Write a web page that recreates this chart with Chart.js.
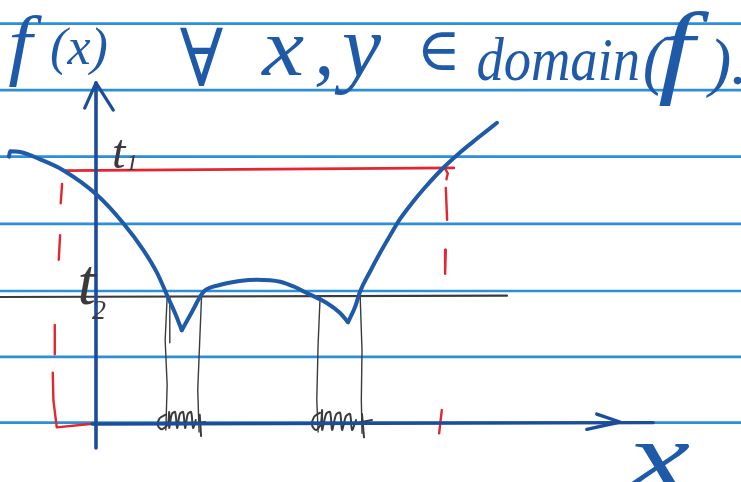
<!DOCTYPE html>
<html>
<head>
<meta charset="utf-8">
<script src="https://cdn.jsdelivr.net/npm/chart.js@4/dist/chart.umd.min.js"></script>
<style>
  html, body { margin: 0; padding: 0; background: #ffffff; overflow: hidden; }
  canvas { display: block; }
</style>
</head>
<body>
<canvas id="sketch" width="741" height="482"></canvas>
<script>
// Units: one unit = one ruled-line spacing; origin at the axes crossing.

// Ruled paper lines (y levels)
const ruledLevels = [0.02, 1.01, 2.0, 3.01, 4.02, 5.02, 6.02];

// f(x): three pieces joined at the two cusps
const curveLeft = [
  [-1.31, 4.02], [-1.29, 4.10], [-1.14, 4.09], [-0.84, 3.98], [-0.50, 3.82],
  [0.02, 3.44], [0.41, 3.02], [0.71, 2.62], [0.92, 2.27], [1.08, 1.91],
  [1.20, 1.64], [1.29, 1.41]
];
const curveMiddle = [
  [1.29, 1.41], [1.44, 1.68], [1.61, 1.98], [1.86, 2.09], [2.16, 2.15],
  [2.42, 2.17], [2.77, 2.14], [2.99, 2.06], [3.17, 1.97], [3.47, 1.82],
  [3.67, 1.67], [3.79, 1.53]
];
const curveRight = [
  [3.79, 1.53], [3.90, 1.77], [3.97, 1.99], [4.12, 2.29], [4.27, 2.57],
  [4.42, 2.83], [4.57, 3.08], [4.75, 3.32], [4.95, 3.56], [5.22, 3.85],
  [5.47, 4.08], [5.74, 4.30], [6.03, 4.53]
];

// Level t1 (red) and its dashed drop lines
const levelT1 = [[-0.50, 3.81], [5.38, 3.85]];
const t1Hook = [[5.25, 3.84], [5.29, 3.77], [5.27, 3.68]];
const t1DropLeft = [
  [[-0.51, 3.61], [-0.53, 3.32]],
  [[-0.54, 2.84], [-0.56, 2.47]],
  [[-0.62, 1.49], [-0.62, 1.05]],
  [[-0.65, 0.77], [-0.64, 0.35], [-0.59, -0.05], [-0.09, 0.0]]
];
const t1DropRight = [
  [[5.26, 3.55], [5.28, 3.07]],
  [[5.26, 2.62], [5.25, 2.26]],
  [[5.20, 0.21], [5.16, -0.14]]
];

// Level t2 (grey) and its drop lines
const levelT2 = [[-1.45, 1.91], [6.18, 1.93]];
const t2Drops = [
  [[1.07, 1.91], [1.04, 1.26], [1.07, 0.59], [1.05, -0.09]],
  [[1.11, 1.91], [1.11, 1.22]],
  [[1.59, 1.98], [1.56, 1.26], [1.53, 0.51], [1.55, -0.12]],
  [[3.37, 1.91], [3.34, 1.20], [3.32, 0.36], [3.34, -0.12]],
  [[3.97, 2.00], [4.00, 1.11], [3.99, 0.36], [4.00, -0.14]]
];

// Hatched intervals on the x axis
const scribbles = [
  [[1.05, 0.14], [0.96, 0.09], [0.93, -0.02], [0.99, -0.08], [1.08, 0.0], [1.10, 0.18],
   [1.10, -0.06], [1.14, 0.15], [1.19, 0.18], [1.22, -0.06], [1.26, 0.15], [1.31, 0.18],
   [1.34, -0.06], [1.38, 0.15], [1.43, 0.18], [1.46, -0.06], [1.50, 0.06]],
  [[1.46, 0.0], [1.64, 0.03]],
  [[1.56, 0.14], [1.58, -0.18]],
  [[3.37, 0.17], [3.28, 0.11], [3.25, -0.02], [3.31, -0.09], [3.38, 0.0], [3.40, 0.21],
   [3.40, -0.09], [3.46, 0.15], [3.52, 0.18], [3.55, -0.09], [3.61, 0.14], [3.67, 0.17],
   [3.70, -0.09], [3.76, 0.12], [3.82, 0.15], [3.85, -0.09], [3.91, 0.06]],
  [[3.85, 0.0], [4.15, 0.06]],
  [[4.00, 0.15], [4.03, -0.20]]
];

// Axes with arrow heads
const yAxisLine = [[0, -0.36], [0, 5.13]];
const yAxisArrow = [[-0.17, 4.75], [0, 5.13], [0.26, 4.72]];
const xAxisLine = [[-0.06, 0], [8.38, 0.02]];
const xAxisArrow = [[7.53, 0.15], [7.88, 0.03], [7.38, -0.08]];

// Text
const headingTokens = ['f', '(x)', '\u2200', 'x', ',', 'y', '\u2208', 'domain', '(', 'f', ').'];
const levelLabels = ['t', '1', 't', '2'];
const axisLabel = 'x';

const INK = '#1f5aa8';
const AXIS = '#1b4d9b';
const RULE = '#2e8fd6';
const RED = '#e3262f';
const GREY = '#3b3b3b';
const HAND = '"Liberation Serif", "DejaVu Serif", serif';

const toPts = arr => arr.map(([x, y]) => ({ x, y }));
const datasets = [];
function addLine(points, color, width, order, smooth = 'none') {
  datasets.push({
    data: toPts(points), showLine: true, borderColor: color, borderWidth: width,
    pointRadius: 0, order, borderCapStyle: 'round', borderJoinStyle: 'round', fill: false,
    tension: smooth === 'none' ? 0 : 0.3,
    cubicInterpolationMode: smooth === 'monotone' ? 'monotone' : 'default'
  });
}

const X_MIN = -96 / 66.5, X_MAX = 645 / 66.5, Y_MIN = -58 / 66.5, Y_MAX = 424 / 66.5;

ruledLevels.forEach(y => addLine([[X_MIN, y], [X_MAX, y]], RULE, 2.6, 9));
addLine(levelT2, GREY, 2.2, 6);
t2Drops.forEach(d => addLine(d, GREY, 1.4, 6));
scribbles.forEach(s => addLine(s, GREY, 2.0, 6, 'bezier'));
addLine(levelT1, RED, 2.8, 5);
addLine(t1Hook, RED, 2.4, 5);
t1DropLeft.forEach(d => addLine(d, RED, 2.4, 5));
t1DropRight.forEach(d => addLine(d, RED, 2.4, 5));
addLine(xAxisLine, AXIS, 3.4, 3);
addLine(xAxisArrow, AXIS, 3.4, 3);
addLine(yAxisLine, AXIS, 3.6, 3);
addLine(yAxisArrow, AXIS, 3.2, 3);
[curveLeft, curveMiddle, curveRight].forEach(c => addLine(c, INK, 4, 1, 'monotone'));

// Placement of handwritten text (data units, font size, horizontal stretch, colour)
const textLayout = [
  { t: headingTokens[0], x: -1.32, y: 5.32, size: 78, sx: 1.1, color: INK },
  { t: headingTokens[1], x: -0.69, y: 5.41, size: 52, sx: 1.0, color: INK },
  { t: headingTokens[2], x: 1.26, y: 5.08, size: 80, sx: 0.9, color: INK, upright: true },
  { t: headingTokens[3], x: 2.50, y: 5.25, size: 82, sx: 1.15, color: INK },
  { t: headingTokens[4], x: 3.28, y: 5.25, size: 82, sx: 1.0, color: INK },
  { t: headingTokens[5], x: 3.70, y: 5.23, size: 88, sx: 1.0, color: INK },
  { t: headingTokens[6], x: 4.82, y: 5.32, size: 60, sx: 1.0, color: INK, upright: true },
  { t: headingTokens[7], x: 5.72, y: 5.17, size: 62, sx: 0.88, color: INK },
  { t: headingTokens[8], x: 8.22, y: 5.14, size: 66, sx: 1.0, color: INK },
  { t: headingTokens[9], x: 8.45, y: 5.11, size: 104, sx: 1.25, color: INK },
  { t: headingTokens[10], x: 9.22, y: 5.11, size: 66, sx: 1.0, color: INK },
  { t: levelLabels[0], x: 0.24, y: 3.85, size: 48, sx: 1.0, color: GREY },
  { t: levelLabels[1], x: 0.45, y: 3.82, size: 24, sx: 1.0, color: GREY },
  { t: levelLabels[2], x: -0.28, y: 1.80, size: 66, sx: 1.0, color: GREY },
  { t: levelLabels[3], x: -0.06, y: 1.58, size: 28, sx: 1.0, color: GREY },
  { t: axisLabel, x: 8.0, y: -0.99, size: 100, sx: 1.4, color: INK }
];

const handText = {
  id: 'handText',
  afterDatasetsDraw(chart) {
    const { ctx, scales } = chart;
    textLayout.forEach(item => {
      ctx.save();
      ctx.textBaseline = 'alphabetic';
      ctx.textAlign = 'left';
      ctx.font = (item.upright ? '' : 'italic ') + item.size + 'px ' + HAND;
      ctx.fillStyle = item.color;
      ctx.translate(scales.x.getPixelForValue(item.x), scales.y.getPixelForValue(item.y));
      ctx.scale(item.sx, 1);
      ctx.fillText(item.t, 0, 0);
      ctx.restore();
    });
  }
};

new Chart(document.getElementById('sketch'), {
  type: 'scatter',
  data: { datasets },
  options: {
    responsive: false,
    animation: false,
    devicePixelRatio: 1,
    layout: { padding: 0 },
    plugins: { legend: { display: false }, tooltip: { enabled: false } },
    scales: {
      x: { type: 'linear', min: X_MIN, max: X_MAX, display: false },
      y: { type: 'linear', min: Y_MIN, max: Y_MAX, display: false }
    }
  },
  plugins: [handText]
});
</script>
</body>
</html>
